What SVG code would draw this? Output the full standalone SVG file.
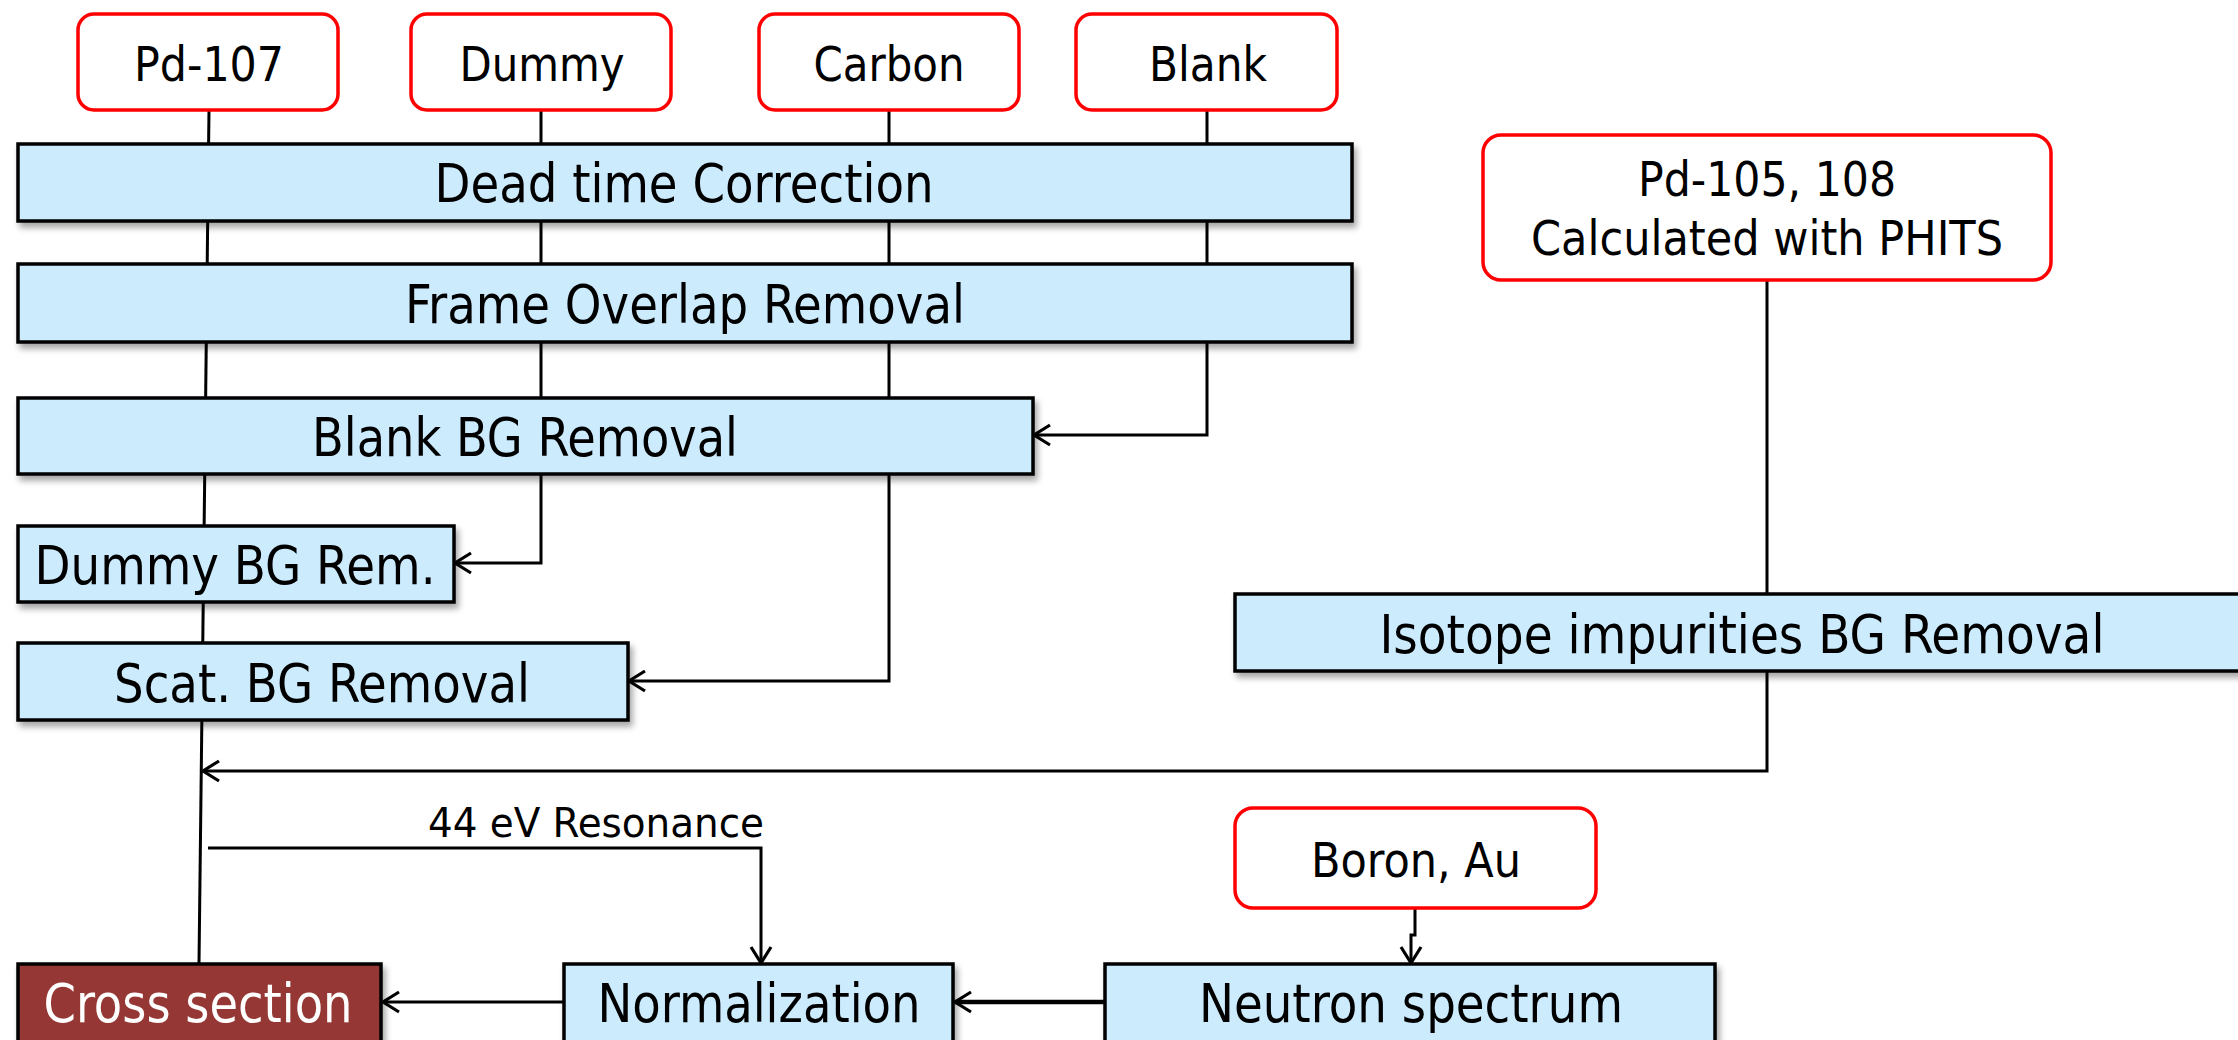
<svg xmlns="http://www.w3.org/2000/svg" width="2238" height="1040" viewBox="0 0 2238 1040">
  <style>
    .src { fill: #FFFFFF; stroke: #FF0000; stroke-width: 3.5; }
    .step { fill: #CCEBFC; stroke: #000000; stroke-width: 3.5; filter: url(#shadow); }
    .result { fill: #953735; stroke: #000000; stroke-width: 3.5; filter: url(#shadow); }
    text { font-family: "DejaVu Sans Condensed", "DejaVu Sans", sans-serif; font-stretch: condensed; text-anchor: middle; fill: #000000; }
    .big { font-size: 53px; }
    .mid { font-size: 48px; }
    .small { font-size: 40px; }
    .white { fill: #FFFFFF; }
    .wire { fill: none; stroke: #000000; stroke-width: 3; }
    .arrow { fill: none; stroke: #000000; stroke-width: 3; marker-end: url(#head); }
  </style>
  <defs>
    <filter id="shadow" x="-5%" y="-20%" width="115%" height="160%">
      <feDropShadow dx="3" dy="5" stdDeviation="3" flood-color="#000000" flood-opacity="0.35"/>
    </filter>
    <marker id="head" viewBox="0 0 24 24" refX="21" refY="12" markerWidth="24" markerHeight="24" markerUnits="userSpaceOnUse" orient="auto">
      <path d="M5,2 L21,12 L5,22" fill="none" stroke="#000000" stroke-width="3.2"/>
    </marker>
  </defs>

  <rect width="2238" height="1040" fill="#FFFFFF"/>

  <!-- connectors -->
  <g id="connectors">
    <!-- Pd-107 main line down to the cross section -->
    <line class="wire" x1="209" y1="110" x2="199" y2="964"/>
    <!-- Dummy -->
    <polyline class="arrow" points="541,110 541,563 455,563"/>
    <!-- Carbon -->
    <polyline class="arrow" points="889,110 889,681 629,681"/>
    <!-- Blank -->
    <polyline class="arrow" points="1207,110 1207,435 1034,435"/>
    <!-- PHITS into isotope removal -->
    <line class="wire" x1="1767" y1="280" x2="1767" y2="594"/>
    <!-- isotope removal back to main line -->
    <polyline class="arrow" points="1767,671 1767,771 203,771"/>
    <!-- 44 eV resonance branch -->
    <polyline class="arrow" points="208,848 761,848 761,963"/>
    <!-- Boron, Au to neutron spectrum -->
    <polyline class="arrow" points="1415,908 1415,935 1411,935 1411,963"/>
    <!-- neutron spectrum to normalization -->
    <polyline class="arrow" style="stroke-width:4.5" points="1105,1002 955,1002"/>
    <!-- normalization to cross section -->
    <polyline class="arrow" points="563,1002 383,1002"/>
  </g>

  <!-- sample inputs -->
  <g id="pd107">
    <rect class="src" x="78" y="14" width="260" height="96" rx="16"/>
    <text class="mid" x="209" y="81" textLength="150" lengthAdjust="spacingAndGlyphs">Pd-107</text>
  </g>
  <g id="dummy">
    <rect class="src" x="411" y="14" width="260" height="96" rx="16"/>
    <text class="mid" x="542" y="81" textLength="165" lengthAdjust="spacingAndGlyphs">Dummy</text>
  </g>
  <g id="carbon">
    <rect class="src" x="759" y="14" width="260" height="96" rx="16"/>
    <text class="mid" x="889" y="81" textLength="151" lengthAdjust="spacingAndGlyphs">Carbon</text>
  </g>
  <g id="blank">
    <rect class="src" x="1076" y="14" width="261" height="96" rx="16"/>
    <text class="mid" x="1208" y="81" textLength="118" lengthAdjust="spacingAndGlyphs">Blank</text>
  </g>

  <!-- processing steps -->
  <g id="dead-time">
    <rect class="step" x="18" y="144" width="1334" height="77"/>
    <text class="big" x="684" y="202" textLength="499" lengthAdjust="spacingAndGlyphs">Dead time Correction</text>
  </g>
  <g id="frame-overlap">
    <rect class="step" x="18" y="264" width="1334" height="78"/>
    <text class="big" x="685" y="323" textLength="560" lengthAdjust="spacingAndGlyphs">Frame Overlap Removal</text>
  </g>
  <g id="blank-bg">
    <rect class="step" x="18" y="398" width="1015" height="76"/>
    <text class="big" x="525" y="456" textLength="426" lengthAdjust="spacingAndGlyphs">Blank BG Removal</text>
  </g>
  <g id="dummy-bg">
    <rect class="step" x="18" y="526" width="436" height="76"/>
    <text class="big" x="235" y="584" textLength="401" lengthAdjust="spacingAndGlyphs">Dummy BG Rem.</text>
  </g>
  <g id="scat-bg">
    <rect class="step" x="18" y="643" width="610" height="77"/>
    <text class="big" x="322" y="702" textLength="416" lengthAdjust="spacingAndGlyphs">Scat. BG Removal</text>
  </g>

  <!-- simulated isotopes -->
  <g id="pd105-108">
    <rect class="src" x="1483" y="135" width="568" height="145" rx="18"/>
    <text class="mid" x="1767" y="196" textLength="258" lengthAdjust="spacingAndGlyphs">Pd-105, 108</text>
    <text class="mid" x="1767" y="255" textLength="472" lengthAdjust="spacingAndGlyphs">Calculated with PHITS</text>
  </g>
  <g id="isotope-bg">
    <rect class="step" x="1235" y="594" width="1020" height="77"/>
    <text class="big" x="1742" y="653" textLength="725" lengthAdjust="spacingAndGlyphs">Isotope impurities BG Removal</text>
  </g>

  <!-- branch label -->
  <text id="resonance-label" class="small" x="596" y="837" textLength="336" lengthAdjust="spacingAndGlyphs">44 eV Resonance</text>

  <!-- flux measurement -->
  <g id="boron-au">
    <rect class="src" x="1235" y="808" width="361" height="100" rx="18"/>
    <text class="mid" x="1416" y="877" textLength="210" lengthAdjust="spacingAndGlyphs">Boron, Au</text>
  </g>
  <g id="neutron-spectrum">
    <rect class="step" x="1105" y="964" width="610" height="80"/>
    <text class="big" x="1411" y="1022" textLength="424" lengthAdjust="spacingAndGlyphs">Neutron spectrum</text>
  </g>
  <g id="normalization">
    <rect class="step" x="564" y="964" width="389" height="80"/>
    <text class="big" x="759" y="1022" textLength="323" lengthAdjust="spacingAndGlyphs">Normalization</text>
  </g>
  <g id="cross-section">
    <rect class="result" x="18" y="964" width="363" height="80"/>
    <text class="big white" x="198" y="1022" textLength="309" lengthAdjust="spacingAndGlyphs">Cross section</text>
  </g>
</svg>
